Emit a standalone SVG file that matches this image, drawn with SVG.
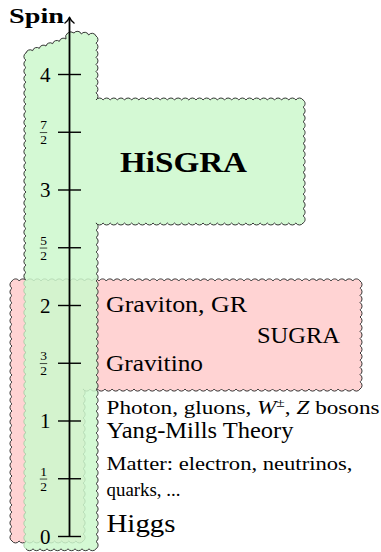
<svg xmlns="http://www.w3.org/2000/svg" width="381" height="552" viewBox="0 0 381 552">
<style>
text { font-family: "Liberation Serif", "Times New Roman", serif; fill: #000; }
.b { font-weight: bold; }
.tk { font-size: 21px; text-anchor: end; }
.fr { font-size: 13.5px; text-anchor: middle; }
.edge { fill: none; stroke: #2b2b2b; stroke-width: 0.95; stroke-linejoin: round; }
.faint { fill: none; stroke: #a3c9a3; stroke-width: 0.9; }
.gfill { fill: #ccf8cc; fill-opacity: 0.85; stroke: none; }
.pfill { fill: #ffd3d3; stroke: none; }
.tick { stroke: #000; stroke-width: 1.4; }
.bar { stroke: #000; stroke-width: 0.7; }
</style>
<defs>
<path id="gA" d="M26 279.8
a4.2 4.2 0 0 1 0 -7.32 a4.2 4.2 0 0 1 0 -7.32 a4.2 4.2 0 0 1 0 -7.32 a4.2 4.2 0 0 1 0 -7.32 a4.2 4.2 0 0 1 0 -7.32
a4.2 4.2 0 0 1 0 -7.32 a4.2 4.2 0 0 1 0 -7.32 a4.2 4.2 0 0 1 0 -7.32 a4.2 4.2 0 0 1 0 -7.32 a4.2 4.2 0 0 1 0 -7.32
a4.2 4.2 0 0 1 0 -7.32 a4.2 4.2 0 0 1 0 -7.32 a4.2 4.2 0 0 1 0 -7.32 a4.2 4.2 0 0 1 0 -7.32 a4.2 4.2 0 0 1 0 -7.32
a4.2 4.2 0 0 1 0 -7.32 a4.2 4.2 0 0 1 0 -7.32 a4.2 4.2 0 0 1 0 -7.32 a4.2 4.2 0 0 1 0 -7.32 a4.2 4.2 0 0 1 0 -7.32
a4.2 4.2 0 0 1 0 -7.32 a4.2 4.2 0 0 1 0 -7.32 a4.2 4.2 0 0 1 0 -7.32 a4.2 4.2 0 0 1 0 -7.32 a4.2 4.2 0 0 1 0 -7.32
a4.2 4.2 0 0 1 0 -7.32 a4.2 4.2 0 0 1 0 -7.32 a4.2 4.2 0 0 1 0 -7.32 a4.2 4.2 0 0 1 0 -7.32 a4.2 4.2 0 0 1 0 -7.32
a4.2 4.2 0 0 1 0 -7.32
L26 53
a4.2 4.2 0 0 1 6.67 -2.33 a4.2 4.2 0 0 1 6.67 -2.33 a4.2 4.2 0 0 1 6.67 -2.33 a4.2 4.2 0 0 1 6.67 -2.33 a4.2 4.2 0 0 1 6.67 -2.33
a4.2 4.2 0 0 1 6.67 -2.33
L66 39
a5.2 5.2 0 0 1 8 -6
a4.2 4.2 0 0 1 7.33 1 a4.2 4.2 0 0 1 7.33 1 a4.2 4.2 0 0 1 7.33 1
L96 36
a4.2 4.2 0 0 1 0 7.11 a4.2 4.2 0 0 1 0 7.11 a4.2 4.2 0 0 1 0 7.11 a4.2 4.2 0 0 1 0 7.11 a4.2 4.2 0 0 1 0 7.11
a4.2 4.2 0 0 1 0 7.11 a4.2 4.2 0 0 1 0 7.11 a4.2 4.2 0 0 1 0 7.11 a4.2 4.2 0 0 1 0 7.11
L96 100
a4.2 4.2 0 0 1 7.14 0 a4.2 4.2 0 0 1 7.14 0 a4.2 4.2 0 0 1 7.14 0 a4.2 4.2 0 0 1 7.14 0 a4.2 4.2 0 0 1 7.14 0
a4.2 4.2 0 0 1 7.14 0 a4.2 4.2 0 0 1 7.14 0 a4.2 4.2 0 0 1 7.14 0 a4.2 4.2 0 0 1 7.14 0 a4.2 4.2 0 0 1 7.14 0
a4.2 4.2 0 0 1 7.14 0 a4.2 4.2 0 0 1 7.14 0 a4.2 4.2 0 0 1 7.14 0 a4.2 4.2 0 0 1 7.14 0 a4.2 4.2 0 0 1 7.14 0
a4.2 4.2 0 0 1 7.14 0 a4.2 4.2 0 0 1 7.14 0 a4.2 4.2 0 0 1 7.14 0 a4.2 4.2 0 0 1 7.14 0 a4.2 4.2 0 0 1 7.14 0
a4.2 4.2 0 0 1 7.14 0 a4.2 4.2 0 0 1 7.14 0 a4.2 4.2 0 0 1 7.14 0 a4.2 4.2 0 0 1 7.14 0 a4.2 4.2 0 0 1 7.14 0
a4.2 4.2 0 0 1 7.14 0 a4.2 4.2 0 0 1 7.14 0 a4.2 4.2 0 0 1 7.14 0 a4.2 4.2 0 0 1 7.14 0
L303 100
a4.2 4.2 0 0 1 0 7.24 a4.2 4.2 0 0 1 0 7.24 a4.2 4.2 0 0 1 0 7.24 a4.2 4.2 0 0 1 0 7.24 a4.2 4.2 0 0 1 0 7.24
a4.2 4.2 0 0 1 0 7.24 a4.2 4.2 0 0 1 0 7.24 a4.2 4.2 0 0 1 0 7.24 a4.2 4.2 0 0 1 0 7.24 a4.2 4.2 0 0 1 0 7.24
a4.2 4.2 0 0 1 0 7.24 a4.2 4.2 0 0 1 0 7.24 a4.2 4.2 0 0 1 0 7.24 a4.2 4.2 0 0 1 0 7.24 a4.2 4.2 0 0 1 0 7.24
a4.2 4.2 0 0 1 0 7.24 a4.2 4.2 0 0 1 0 7.24
L303 223
a4.2 4.2 0 0 1 -7.14 0 a4.2 4.2 0 0 1 -7.14 0 a4.2 4.2 0 0 1 -7.14 0 a4.2 4.2 0 0 1 -7.14 0 a4.2 4.2 0 0 1 -7.14 0
a4.2 4.2 0 0 1 -7.14 0 a4.2 4.2 0 0 1 -7.14 0 a4.2 4.2 0 0 1 -7.14 0 a4.2 4.2 0 0 1 -7.14 0 a4.2 4.2 0 0 1 -7.14 0
a4.2 4.2 0 0 1 -7.14 0 a4.2 4.2 0 0 1 -7.14 0 a4.2 4.2 0 0 1 -7.14 0 a4.2 4.2 0 0 1 -7.14 0 a4.2 4.2 0 0 1 -7.14 0
a4.2 4.2 0 0 1 -7.14 0 a4.2 4.2 0 0 1 -7.14 0 a4.2 4.2 0 0 1 -7.14 0 a4.2 4.2 0 0 1 -7.14 0 a4.2 4.2 0 0 1 -7.14 0
a4.2 4.2 0 0 1 -7.14 0 a4.2 4.2 0 0 1 -7.14 0 a4.2 4.2 0 0 1 -7.14 0 a4.2 4.2 0 0 1 -7.14 0 a4.2 4.2 0 0 1 -7.14 0
a4.2 4.2 0 0 1 -7.14 0 a4.2 4.2 0 0 1 -7.14 0 a4.2 4.2 0 0 1 -7.14 0 a4.2 4.2 0 0 1 -7.14 0
L96 223
a4.2 4.2 0 0 1 0 7.24 a4.2 4.2 0 0 1 0 7.24 a4.2 4.2 0 0 1 0 7.24 a4.2 4.2 0 0 1 0 7.24 a4.2 4.2 0 0 1 0 7.24
a4.2 4.2 0 0 1 0 7.24 a4.2 4.2 0 0 1 0 7.24 a4.2 4.2 0 0 1 0 7.24 a4.2 4.2 0 0 1 0 7.24 a4.2 4.2 0 0 1 0 7.24
a4.2 4.2 0 0 1 0 7.24 a4.2 4.2 0 0 1 0 7.24 a4.2 4.2 0 0 1 0 7.24 a4.2 4.2 0 0 1 0 7.24 a4.2 4.2 0 0 1 0 7.24
a4.2 4.2 0 0 1 0 7.24 a4.2 4.2 0 0 1 0 7.24 a4.2 4.2 0 0 1 0 7.24 a4.2 4.2 0 0 1 0 7.24 a4.2 4.2 0 0 1 0 7.24
a4.2 4.2 0 0 1 0 7.24 a4.2 4.2 0 0 1 0 7.24 a4.2 4.2 0 0 1 0 7.24 a4.2 4.2 0 0 1 0 7.24 a4.2 4.2 0 0 1 0 7.24
a4.2 4.2 0 0 1 0 7.24 a4.2 4.2 0 0 1 0 7.24 a4.2 4.2 0 0 1 0 7.24 a4.2 4.2 0 0 1 0 7.24 a4.2 4.2 0 0 1 0 7.24
a4.2 4.2 0 0 1 0 7.24 a4.2 4.2 0 0 1 0 7.24 a4.2 4.2 0 0 1 0 7.24 a4.2 4.2 0 0 1 0 7.24 a4.2 4.2 0 0 1 0 7.24
a4.2 4.2 0 0 1 0 7.24 a4.2 4.2 0 0 1 0 7.24 a4.2 4.2 0 0 1 0 7.24 a4.2 4.2 0 0 1 0 7.24 a4.2 4.2 0 0 1 0 7.24
a4.2 4.2 0 0 1 0 7.24 a4.2 4.2 0 0 1 0 7.24 a4.2 4.2 0 0 1 0 7.24 a4.2 4.2 0 0 1 0 7.24 a4.2 4.2 0 0 1 0 7.24
L96 548.8
a4.2 4.2 0 0 1 -7 0 a4.2 4.2 0 0 1 -7 0 a4.2 4.2 0 0 1 -7 0 a4.2 4.2 0 0 1 -7 0 a4.2 4.2 0 0 1 -7 0
a4.2 4.2 0 0 1 -7 0 a4.2 4.2 0 0 1 -7 0 a4.2 4.2 0 0 1 -7 0 a4.2 4.2 0 0 1 -7 0 a4.2 4.2 0 0 1 -7 0"/>
<path id="gB" d="M26 548.8
a4.2 4.2 0 0 1 0 -7.27 a4.2 4.2 0 0 1 0 -7.27 a4.2 4.2 0 0 1 0 -7.27 a4.2 4.2 0 0 1 0 -7.27 a4.2 4.2 0 0 1 0 -7.27
a4.2 4.2 0 0 1 0 -7.27 a4.2 4.2 0 0 1 0 -7.27 a4.2 4.2 0 0 1 0 -7.27 a4.2 4.2 0 0 1 0 -7.27 a4.2 4.2 0 0 1 0 -7.27
a4.2 4.2 0 0 1 0 -7.27 a4.2 4.2 0 0 1 0 -7.27 a4.2 4.2 0 0 1 0 -7.27 a4.2 4.2 0 0 1 0 -7.27 a4.2 4.2 0 0 1 0 -7.27
a4.2 4.2 0 0 1 0 -7.27 a4.2 4.2 0 0 1 0 -7.27 a4.2 4.2 0 0 1 0 -7.27 a4.2 4.2 0 0 1 0 -7.27 a4.2 4.2 0 0 1 0 -7.27
a4.2 4.2 0 0 1 0 -7.27 a4.2 4.2 0 0 1 0 -7.27 a4.2 4.2 0 0 1 0 -7.27 a4.2 4.2 0 0 1 0 -7.27 a4.2 4.2 0 0 1 0 -7.27
a4.2 4.2 0 0 1 0 -7.27 a4.2 4.2 0 0 1 0 -7.27 a4.2 4.2 0 0 1 0 -7.27 a4.2 4.2 0 0 1 0 -7.27 a4.2 4.2 0 0 1 0 -7.27
a4.2 4.2 0 0 1 0 -7.27 a4.2 4.2 0 0 1 0 -7.27 a4.2 4.2 0 0 1 0 -7.27 a4.2 4.2 0 0 1 0 -7.27 a4.2 4.2 0 0 1 0 -7.27
a4.2 4.2 0 0 1 0 -7.27 a4.2 4.2 0 0 1 0 -7.27"/>
<path id="pk" d="M12 281
a4.2 4.2 0 0 1 7.25 0 a4.2 4.2 0 0 1 7.25 0 a4.2 4.2 0 0 1 7.25 0 a4.2 4.2 0 0 1 7.25 0 a4.2 4.2 0 0 1 7.25 0
a4.2 4.2 0 0 1 7.25 0 a4.2 4.2 0 0 1 7.25 0 a4.2 4.2 0 0 1 7.25 0 a4.2 4.2 0 0 1 7.25 0 a4.2 4.2 0 0 1 7.25 0
a4.2 4.2 0 0 1 7.25 0 a4.2 4.2 0 0 1 7.25 0 a4.2 4.2 0 0 1 7.25 0 a4.2 4.2 0 0 1 7.25 0 a4.2 4.2 0 0 1 7.25 0
a4.2 4.2 0 0 1 7.25 0 a4.2 4.2 0 0 1 7.25 0 a4.2 4.2 0 0 1 7.25 0 a4.2 4.2 0 0 1 7.25 0 a4.2 4.2 0 0 1 7.25 0
a4.2 4.2 0 0 1 7.25 0 a4.2 4.2 0 0 1 7.25 0 a4.2 4.2 0 0 1 7.25 0 a4.2 4.2 0 0 1 7.25 0 a4.2 4.2 0 0 1 7.25 0
a4.2 4.2 0 0 1 7.25 0 a4.2 4.2 0 0 1 7.25 0 a4.2 4.2 0 0 1 7.25 0 a4.2 4.2 0 0 1 7.25 0 a4.2 4.2 0 0 1 7.25 0
a4.2 4.2 0 0 1 7.25 0 a4.2 4.2 0 0 1 7.25 0 a4.2 4.2 0 0 1 7.25 0 a4.2 4.2 0 0 1 7.25 0 a4.2 4.2 0 0 1 7.25 0
a4.2 4.2 0 0 1 7.25 0 a4.2 4.2 0 0 1 7.25 0 a4.2 4.2 0 0 1 7.25 0 a4.2 4.2 0 0 1 7.25 0 a4.2 4.2 0 0 1 7.25 0
a4.2 4.2 0 0 1 7.25 0 a4.2 4.2 0 0 1 7.25 0 a4.2 4.2 0 0 1 7.25 0 a4.2 4.2 0 0 1 7.25 0 a4.2 4.2 0 0 1 7.25 0
a4.2 4.2 0 0 1 7.25 0 a4.2 4.2 0 0 1 7.25 0 a4.2 4.2 0 0 1 7.25 0
L360 281
a4.2 4.2 0 0 1 0 7.2 a4.2 4.2 0 0 1 0 7.2 a4.2 4.2 0 0 1 0 7.2 a4.2 4.2 0 0 1 0 7.2 a4.2 4.2 0 0 1 0 7.2
a4.2 4.2 0 0 1 0 7.2 a4.2 4.2 0 0 1 0 7.2 a4.2 4.2 0 0 1 0 7.2 a4.2 4.2 0 0 1 0 7.2 a4.2 4.2 0 0 1 0 7.2
a4.2 4.2 0 0 1 0 7.2 a4.2 4.2 0 0 1 0 7.2 a4.2 4.2 0 0 1 0 7.2 a4.2 4.2 0 0 1 0 7.2 a4.2 4.2 0 0 1 0 7.2
L360 389
a4.2 4.2 0 0 1 -7.29 0 a4.2 4.2 0 0 1 -7.29 0 a4.2 4.2 0 0 1 -7.29 0 a4.2 4.2 0 0 1 -7.29 0 a4.2 4.2 0 0 1 -7.29 0
a4.2 4.2 0 0 1 -7.29 0 a4.2 4.2 0 0 1 -7.29 0 a4.2 4.2 0 0 1 -7.29 0 a4.2 4.2 0 0 1 -7.29 0 a4.2 4.2 0 0 1 -7.29 0
a4.2 4.2 0 0 1 -7.29 0 a4.2 4.2 0 0 1 -7.29 0 a4.2 4.2 0 0 1 -7.29 0 a4.2 4.2 0 0 1 -7.29 0 a4.2 4.2 0 0 1 -7.29 0
a4.2 4.2 0 0 1 -7.29 0 a4.2 4.2 0 0 1 -7.29 0 a4.2 4.2 0 0 1 -7.29 0 a4.2 4.2 0 0 1 -7.29 0 a4.2 4.2 0 0 1 -7.29 0
a4.2 4.2 0 0 1 -7.29 0 a4.2 4.2 0 0 1 -7.29 0 a4.2 4.2 0 0 1 -7.29 0 a4.2 4.2 0 0 1 -7.29 0 a4.2 4.2 0 0 1 -7.29 0
a4.2 4.2 0 0 1 -7.29 0 a4.2 4.2 0 0 1 -7.29 0 a4.2 4.2 0 0 1 -7.29 0 a4.2 4.2 0 0 1 -7.29 0 a4.2 4.2 0 0 1 -7.29 0
a4.2 4.2 0 0 1 -7.29 0 a4.2 4.2 0 0 1 -7.29 0 a4.2 4.2 0 0 1 -7.29 0 a4.2 4.2 0 0 1 -7.29 0 a4.2 4.2 0 0 1 -7.29 0
a4.2 4.2 0 0 1 -7.29 0 a4.2 4.2 0 0 1 -7.29 0 a4.2 4.2 0 0 1 -7.29 0
L83 389
a4.2 4.2 0 0 1 0 7.24 a4.2 4.2 0 0 1 0 7.24 a4.2 4.2 0 0 1 0 7.24 a4.2 4.2 0 0 1 0 7.24 a4.2 4.2 0 0 1 0 7.24
a4.2 4.2 0 0 1 0 7.24 a4.2 4.2 0 0 1 0 7.24 a4.2 4.2 0 0 1 0 7.24 a4.2 4.2 0 0 1 0 7.24 a4.2 4.2 0 0 1 0 7.24
a4.2 4.2 0 0 1 0 7.24 a4.2 4.2 0 0 1 0 7.24 a4.2 4.2 0 0 1 0 7.24 a4.2 4.2 0 0 1 0 7.24 a4.2 4.2 0 0 1 0 7.24
a4.2 4.2 0 0 1 0 7.24 a4.2 4.2 0 0 1 0 7.24 a4.2 4.2 0 0 1 0 7.24 a4.2 4.2 0 0 1 0 7.24 a4.2 4.2 0 0 1 0 7.24
a4.2 4.2 0 0 1 0 7.24
L83 541
a4.2 4.2 0 0 1 -7.1 0 a4.2 4.2 0 0 1 -7.1 0 a4.2 4.2 0 0 1 -7.1 0 a4.2 4.2 0 0 1 -7.1 0 a4.2 4.2 0 0 1 -7.1 0
a4.2 4.2 0 0 1 -7.1 0 a4.2 4.2 0 0 1 -7.1 0 a4.2 4.2 0 0 1 -7.1 0 a4.2 4.2 0 0 1 -7.1 0 a4.2 4.2 0 0 1 -7.1 0
L12 541
a4.2 4.2 0 0 1 0 -7.22 a4.2 4.2 0 0 1 0 -7.22 a4.2 4.2 0 0 1 0 -7.22 a4.2 4.2 0 0 1 0 -7.22 a4.2 4.2 0 0 1 0 -7.22
a4.2 4.2 0 0 1 0 -7.22 a4.2 4.2 0 0 1 0 -7.22 a4.2 4.2 0 0 1 0 -7.22 a4.2 4.2 0 0 1 0 -7.22 a4.2 4.2 0 0 1 0 -7.22
a4.2 4.2 0 0 1 0 -7.22 a4.2 4.2 0 0 1 0 -7.22 a4.2 4.2 0 0 1 0 -7.22 a4.2 4.2 0 0 1 0 -7.22 a4.2 4.2 0 0 1 0 -7.22
a4.2 4.2 0 0 1 0 -7.22 a4.2 4.2 0 0 1 0 -7.22 a4.2 4.2 0 0 1 0 -7.22 a4.2 4.2 0 0 1 0 -7.22 a4.2 4.2 0 0 1 0 -7.22
a4.2 4.2 0 0 1 0 -7.22 a4.2 4.2 0 0 1 0 -7.22 a4.2 4.2 0 0 1 0 -7.22 a4.2 4.2 0 0 1 0 -7.22 a4.2 4.2 0 0 1 0 -7.22
a4.2 4.2 0 0 1 0 -7.22 a4.2 4.2 0 0 1 0 -7.22 a4.2 4.2 0 0 1 0 -7.22 a4.2 4.2 0 0 1 0 -7.22 a4.2 4.2 0 0 1 0 -7.22
a4.2 4.2 0 0 1 0 -7.22 a4.2 4.2 0 0 1 0 -7.22 a4.2 4.2 0 0 1 0 -7.22 a4.2 4.2 0 0 1 0 -7.22 a4.2 4.2 0 0 1 0 -7.22
a4.2 4.2 0 0 1 0 -7.22 Z"/>
</defs>

<g id="sugra">
  <use href="#pk" class="pfill"/>
  <use href="#pk" class="edge"/>
  <text x="106" y="312" font-size="23.5" textLength="141" lengthAdjust="spacingAndGlyphs">Graviton, GR</text>
  <text x="257" y="343" font-size="23.5" textLength="83" lengthAdjust="spacingAndGlyphs">SUGRA</text>
  <text x="106" y="371" font-size="23.5" textLength="97" lengthAdjust="spacingAndGlyphs">Gravitino</text>
</g>

<g id="hisgra">
  <use href="#gA" class="gfill"/>
  <use href="#gB" class="gfill"/>
  <use href="#gA" class="edge"/>
  <use href="#gB" class="faint"/>
  <text class="b" x="120" y="171.7" font-size="30" textLength="127" lengthAdjust="spacingAndGlyphs">HiSGRA</text>
</g>

<g id="yang-mills">
  <text x="106.5" y="414.3" font-size="19.5" textLength="273" lengthAdjust="spacingAndGlyphs">Photon, gluons, <tspan font-style="italic">W</tspan><tspan font-size="13" dy="-7">±</tspan><tspan dy="7">, </tspan><tspan font-style="italic">Z</tspan> bosons</text>
  <text x="106.5" y="438.3" font-size="22.5" textLength="187" lengthAdjust="spacingAndGlyphs">Yang-Mills Theory</text>
</g>

<g id="matter">
  <text x="106.5" y="470" font-size="18" textLength="246" lengthAdjust="spacingAndGlyphs">Matter: electron, neutrinos,</text>
  <text x="106.5" y="495.5" font-size="18" textLength="74" lengthAdjust="spacingAndGlyphs">quarks, ...</text>
</g>

<g id="higgs">
  <text x="106.5" y="531.7" font-size="26" textLength="69" lengthAdjust="spacingAndGlyphs">Higgs</text>
</g>

<g id="axis">
  <line x1="69.5" y1="536.5" x2="69.5" y2="18.5" stroke="#000" stroke-width="1.8"/>
  <path d="M65 23 Q68 21 69.5 17.3 Q71 21 74 23" fill="none" stroke="#000" stroke-width="1.5" stroke-linecap="round" stroke-linejoin="round"/>
  <text class="b" x="9" y="22.5" font-size="21.5" textLength="55" lengthAdjust="spacingAndGlyphs">Spin</text>
  <line class="tick" x1="58" y1="74.5" x2="81" y2="74.5"/>
  <line class="tick" x1="58" y1="132.25" x2="81" y2="132.25"/>
  <line class="tick" x1="58" y1="190" x2="81" y2="190"/>
  <line class="tick" x1="58" y1="247.75" x2="81" y2="247.75"/>
  <line class="tick" x1="58" y1="305.5" x2="81" y2="305.5"/>
  <line class="tick" x1="58" y1="363.25" x2="81" y2="363.25"/>
  <line class="tick" x1="58" y1="421" x2="81" y2="421"/>
  <line class="tick" x1="58" y1="478.75" x2="81" y2="478.75"/>
  <line class="tick" x1="58" y1="536.5" x2="81" y2="536.5"/>
  <text class="tk" x="50.5" y="81.8">4</text>
  <text class="tk" x="50.5" y="197.3">3</text>
  <text class="tk" x="50.5" y="312.8">2</text>
  <text class="tk" x="50.5" y="428.3">1</text>
  <text class="tk" x="50.5" y="543.8">0</text>
  <text class="fr" x="43.5" y="129.25">7</text>
  <line class="bar" x1="39.8" y1="132.55" x2="47.2" y2="132.55"/>
  <text class="fr" x="43.5" y="144.25">2</text>
  <text class="fr" x="43.5" y="244.75">5</text>
  <line class="bar" x1="39.8" y1="248.05" x2="47.2" y2="248.05"/>
  <text class="fr" x="43.5" y="259.75">2</text>
  <text class="fr" x="43.5" y="360.25">3</text>
  <line class="bar" x1="39.8" y1="363.55" x2="47.2" y2="363.55"/>
  <text class="fr" x="43.5" y="375.25">2</text>
  <text class="fr" x="43.5" y="475.75">1</text>
  <line class="bar" x1="39.8" y1="479.05" x2="47.2" y2="479.05"/>
  <text class="fr" x="43.5" y="490.75">2</text>
</g>
</svg>
